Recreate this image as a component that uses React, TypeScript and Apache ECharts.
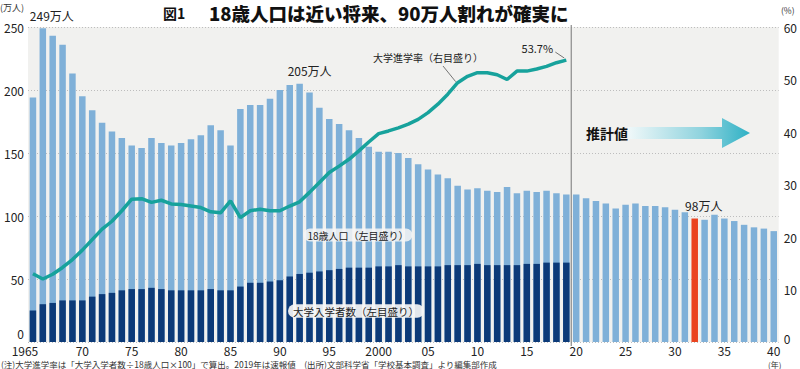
import React, { useEffect, useRef } from "react";
import * as echarts from "echarts";

const years = [
  "1965","1966","1967","1968","1969","1970","1971","1972","1973","1974",
  "1975","1976","1977","1978","1979","1980","1981","1982","1983","1984",
  "1985","1986","1987","1988","1989","1990","1991","1992","1993","1994",
  "1995","1996","1997","1998","1999","2000","2001","2002","2003","2004",
  "2005","2006","2007","2008","2009","2010","2011","2012","2013","2014",
  "2015","2016","2017","2018","2019","2020","2021","2022","2023","2024",
  "2025","2026","2027","2028","2029","2030","2031","2032","2033","2034",
  "2035","2036","2037","2038","2039","2040",
];

// 18歳人口（万人）
const pop18 = [
  194, 249, 243, 236, 213, 195, 184, 174, 167, 162,
  156, 154, 162, 158, 156, 158, 161, 164, 172, 168,
  156, 185, 188, 188, 193, 200, 204, 205, 198, 186,
  177, 173, 168, 162, 155, 151, 151, 150, 146, 141,
  137, 133, 130, 124, 121, 122, 120, 119, 123, 118,
  120, 119, 120, 118, 117, 117, 114, 112, 110, 106,
  109, 110, 108, 108, 107, 105, 103, 98, 97, 101,
  98, 96, 93, 91, 90, 88,
];

// 大学入学者数（万人） 1965-2019
const entrants = [
  25, 30, 31, 33, 33, 33, 36, 38, 39, 41,
  42, 42, 43, 42, 41, 41, 41, 41, 42, 41,
  41, 44, 47, 47, 48, 49, 52, 54, 55, 56,
  57, 58, 59, 59, 59, 60, 60, 61, 60, 60,
  60, 60, 61, 61, 61, 62, 61, 61, 61, 61,
  62, 62, 63, 63, 63,
];

// 大学進学率（%） 1965-2019
const rate = [
  13.0, 12.0, 12.9, 14.2, 15.7, 17.5, 19.5, 21.5, 23.0, 25.0,
  27.2, 27.3, 26.6, 27.0, 26.3, 26.2, 25.9, 25.6, 24.8, 24.6,
  26.9, 23.7, 25.0, 25.3, 25.0, 25.0, 25.9, 26.7, 28.5, 30.4,
  32.3, 33.5, 34.8, 36.4, 38.1, 39.7, 40.2, 40.8, 41.5, 42.4,
  43.7, 45.3, 47.2, 49.4, 50.6, 51.3, 51.3, 50.9, 50.0, 51.6,
  51.6, 52.0, 52.5, 53.2, 53.7,
];

const leftTicks = { min: 0, max: 250, interval: 50 };
const rightTicks = { min: 0, max: 60, interval: 10 };

const FONT = "'Noto Sans CJK JP', 'Noto Sans', sans-serif";
const LIGHT = "#7fb0d8";
const DARK = "#0c3a78";
const TEAL = "#17a29c";
const RED = "#ea4420";

const barLabels: Record<string, { text: string; offset: number[] }> = {
  "1966": { text: "249万人", offset: [9, -2] },
  "1992": { text: "205万人", offset: [10, -2] },
  "2032": { text: "98万人", offset: [9, -2] },
};

export default function App() {
  const ref = useRef<HTMLDivElement>(null);

  useEffect(() => {
    if (!ref.current) return;
    const chart = echarts.init(ref.current, null, { renderer: "svg" });

    const popData = pop18.map((v, i) => {
      const y = years[i];
      const item: any = { value: v };
      if (y === "2032") item.itemStyle = { color: RED };
      if (barLabels[y]) {
        item.label = {
          show: true,
          position: "top",
          formatter: barLabels[y].text,
          offset: barLabels[y].offset,
          fontSize: 12,
          color: "#222",
          fontFamily: FONT,
        };
      }
      return item;
    });

    const option: any = {
      animation: false,
      backgroundColor: "#ffffff",
      textStyle: { fontFamily: FONT },
      grid: {
        left: 28,
        right: 20,
        top: 27,
        bottom: 27,
        show: true,
        backgroundColor: "#f1f1ef",
        borderWidth: 0,
        containLabel: false,
      },
      xAxis: {
        type: "category",
        data: years,
        boundaryGap: true,
        axisLine: { show: false },
        axisTick: { show: false },
        axisLabel: {
          interval: (idx: number, v: string) => Number(v) % 5 === 0,
          formatter: (v: string) =>
            v === "1965" ? "{first|1965}" : v === "2000" ? v : v.slice(2),
          rich: {
            first: { fontSize: 12, lineHeight: 12, color: "#222", padding: [0, 16, 0, 0], fontFamily: FONT },
          },
          fontSize: 12,
          lineHeight: 12,
          color: "#222",
          margin: 2,
          fontFamily: FONT,
        },
        splitLine: { show: false },
      },
      yAxis: [
        {
          type: "value",
          ...leftTicks,
          axisLine: { show: false },
          axisTick: { show: false },
          axisLabel: {
            fontSize: 12,
            color: "#222",
            margin: 4,
            fontFamily: FONT,
            showMinLabel: false,
          },
          splitLine: {
            show: true,
            lineStyle: { color: "#bdbdbd", type: [1, 2], width: 1 },
          },
        },
        {
          type: "value",
          ...rightTicks,
          position: "right",
          axisLine: { show: false },
          axisTick: { show: false },
          axisLabel: {
            fontSize: 12,
            color: "#222",
            margin: 5,
            fontFamily: FONT,
            formatter: (v: number) => (v === 0 ? "{z|0}" : String(v)),
            rich: { z: { fontSize: 12, lineHeight: 12, color: "#222", padding: [0, 0, 8, 0], fontFamily: FONT } },
          },
          splitLine: { show: false },
        },
      ],
      series: [
        {
          name: "18歳人口",
          type: "bar",
          data: popData,
          barWidth: 6.5,
          itemStyle: { color: LIGHT },
          z: 2,
        },
        {
          name: "大学入学者数",
          type: "bar",
          data: entrants,
          barWidth: 6.5,
          barGap: "-100%",
          itemStyle: { color: DARK },
          z: 3,
        },
        {
          name: "大学進学率",
          type: "line",
          yAxisIndex: 1,
          data: rate,
          symbol: "none",
          lineStyle: { color: TEAL, width: 3.5 },
          z: 5,
        },
      ],
    };

    chart.setOption(option);

    const xOf = (y: string) => chart.convertToPixel({ xAxisIndex: 0 }, y) as number;
    const yL = (v: number) => chart.convertToPixel({ yAxisIndex: 0 }, v) as number;
    const yR = (v: number) => chart.convertToPixel({ yAxisIndex: 1 }, v) as number;

    const sepX = (xOf("2019") + xOf("2020")) / 2;
    const lastIdx = rate.length - 1;
    const pLast = [xOf(years[lastIdx]), yR(rate[lastIdx])];
    const i2008 = years.indexOf("2008");
    const p2008 = [xOf("2008"), yR(rate[i2008])];
    const topY = yL(250);
    const baseY = yL(0);

    const arrowL = 628;
    const arrowR = 750;
    const arrowY = 133;

    chart.setOption({
      graphic: [
        {
          type: "line",
          shape: { x1: sepX, y1: topY - 2, x2: sepX, y2: baseY + 4 },
          style: { stroke: "#8a8a8a", lineWidth: 1.2 },
          z: 10,
        },
        // left axis zero label (lifted above the baseline as in the original)
        {
          type: "text",
          x: 24,
          y: baseY - 9,
          style: {
            text: "0",
            fontSize: 12,
            fill: "#222",
            align: "right",
            verticalAlign: "middle",
            fontFamily: FONT,
          },
        },
        // title
        {
          type: "text",
          left: 163,
          top: 6,
          style: { text: "図1", fontSize: 14, fontWeight: "bold", fill: "#111", fontFamily: FONT },
        },
        {
          type: "text",
          left: 209,
          top: 4,
          style: {
            text: "18歳人口は近い将来、90万人割れが確実に",
            fontSize: 18.5,
            fontWeight: 900,
            fill: "#111",
            fontFamily: FONT,
          },
        },
        // axis units
        {
          type: "text",
          left: 0,
          top: 3,
          style: { text: "(万人)", fontSize: 9, fill: "#333", fontFamily: FONT },
        },
        {
          type: "text",
          left: 781,
          top: 6,
          style: { text: "(%)", fontSize: 8.5, fill: "#333", fontFamily: FONT },
        },
        {
          type: "text",
          left: 768,
          top: 360,
          style: { text: "(年)", fontSize: 8, fill: "#333", fontFamily: FONT },
        },
        // 53.7% label
        {
          type: "text",
          x: pLast[0] - 29,
          y: pLast[1] - 12,
          style: {
            text: "53.7%",
            fontSize: 11,
            fill: "#222",
            align: "center",
            verticalAlign: "middle",
            fontFamily: FONT,
          },
          z: 11,
        },
        {
          type: "line",
          shape: { x1: pLast[0] - 11, y1: pLast[1] - 8, x2: pLast[0] - 2, y2: pLast[1] - 2 },
          style: { stroke: "#555", lineWidth: 0.8 },
          z: 11,
        },
        // rate series label
        {
          type: "text",
          x: 428,
          y: 57,
          style: {
            text: "大学進学率（右目盛り）",
            fontSize: 10,
            fill: "#222",
            align: "center",
            verticalAlign: "middle",
            fontFamily: FONT,
          },
          z: 11,
        },
        {
          type: "line",
          shape: { x1: 443, y1: 66, x2: p2008[0] - 2, y2: p2008[1] - 1 },
          style: { stroke: "#555", lineWidth: 0.8 },
          z: 11,
        },
        // bar series labels
        {
          type: "text",
          x: 358,
          y: 235,
          style: {
            text: "18歳人口（左目盛り）",
            fontSize: 10,
            fill: "#222",
            align: "center",
            verticalAlign: "middle",
            backgroundColor: "rgba(246,246,246,0.85)",
            borderRadius: 7,
            padding: [2, 4, 1, 4],
            fontFamily: FONT,
          },
          z: 11,
        },
        {
          type: "text",
          x: 356,
          y: 311,
          style: {
            text: "大学入学者数（左目盛り）",
            fontSize: 10.5,
            fill: "#222",
            align: "center",
            verticalAlign: "middle",
            backgroundColor: "rgba(246,246,246,0.92)",
            borderRadius: 8,
            padding: [2, 5, 1, 5],
            fontFamily: FONT,
          },
          z: 11,
        },
        // projection arrow
        {
          type: "text",
          x: 607,
          y: arrowY,
          style: {
            text: "推計値",
            fontSize: 14,
            fontWeight: "bold",
            fill: "#111",
            align: "center",
            verticalAlign: "middle",
            fontFamily: FONT,
          },
          z: 11,
        },
        {
          type: "polygon",
          shape: {
            points: [
              [arrowL, arrowY - 6],
              [arrowR - 28, arrowY - 6],
              [arrowR - 28, arrowY - 15],
              [arrowR, arrowY],
              [arrowR - 28, arrowY + 15],
              [arrowR - 28, arrowY + 6],
              [arrowL, arrowY + 6],
            ],
          },
          style: {
            fill: new echarts.graphic.LinearGradient(0, 0, 1, 0, [
              { offset: 0, color: "#f0f8f9" },
              { offset: 0.6, color: "#8fd3de" },
              { offset: 1, color: "#2fb1c5" },
            ]),
          },
          z: 11,
        },
        // footnote
        {
          type: "text",
          left: 1,
          top: 360,
          style: {
            text: "(注)大学進学率は「大学入学者数÷18歳人口×100」で算出。2019年は速報値　(出所)文部科学省「学校基本調査」より編集部作成",
            fontSize: 8.5,
            fill: "#333",
            fontFamily: FONT,
          },
        },
      ],
    });

    return () => chart.dispose();
  }, []);

  return (
    <div
      ref={ref}
      style={{ position: "fixed", left: 0, top: 0, width: 800, height: 369, background: "#fff" }}
    />
  );
}
